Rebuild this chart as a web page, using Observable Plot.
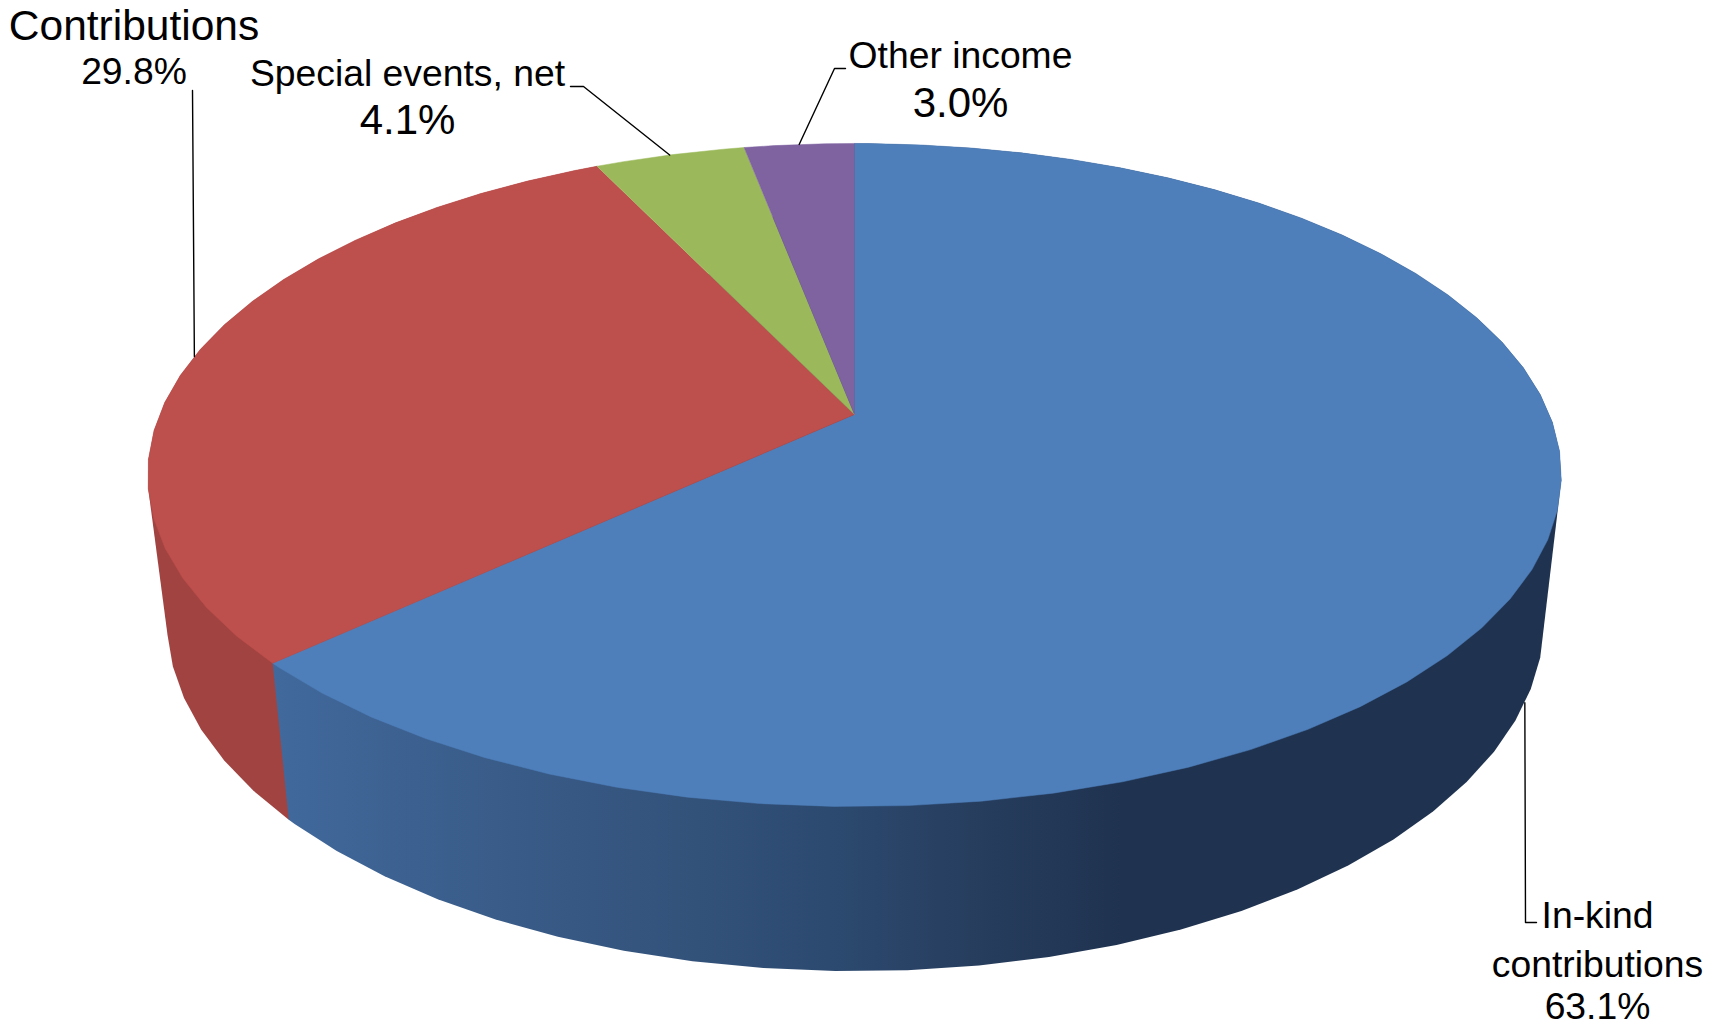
<!DOCTYPE html>
<html><head><meta charset="utf-8">
<style>html,body{margin:0;padding:0;background:#fff;overflow:hidden}svg{display:block}</style>
<script src="https://cdn.jsdelivr.net/npm/d3@7"></script>
<script src="https://cdn.jsdelivr.net/npm/@observablehq/plot@0.6"></script>
</head><body><script>
const categories = ["In-kind contributions", "Contributions", "Special events, net", "Other income"];
const values = [63.1, 29.8, 4.1, 3.0];
const colors = ["#4e7fba", "#bd4f4c", "#9bb95a", "#7f62a0"];
const labelLines = [["In-kind", "contributions"], ["Contributions"], ["Special events, net"], ["Other income"]];

const W = 1724, H = 1022;
const topDisc = {cx: 854, cy: 414, sx: 695, sy: 320.5};
const baseDisc = {cx: 855, cy: 556, sx: 677, sy: 339};
const tilt = 0.1825;
const wallFill = ["url(#wallBlue)", "#a04341", "none", "none"];
const facetStep = 5 / 360;                    // rim is drawn in 5 degree facets
const facetPhase = [1.4 / 360, 2.16 / 360, 2.16 / 360, 2.16 / 360];
const wallOrder = [1, 0];
// label layout: centre x, baseline of name lines, value baseline, sizes, and leader route
const layout = [
  {x: 1597, lines: [927, 976], vy: 1018, size: 37.3, vsize: 37.3, disc: baseDisc, route: [[1525, 922], [1536, 922]]},
  {x: 133.5, lines: [39], vy: 83, size: 42.5, vsize: 37.3, disc: topDisc, route: [[192, 90]]},
  {x: 407, lines: [85], vy: 133, size: 37.3, vsize: 42, disc: topDisc, route: [[583, 86], [570, 86]]},
  {x: 960, lines: [67], vy: 116, size: 37.3, vsize: 42, disc: topDisc, route: [[834, 68], [845, 68]]}
];

function project(disc, frac) {
  const a = frac * 2 * Math.PI, u = Math.sin(a), v = Math.cos(a), w = 1 + tilt * v;
  return [disc.cx + disc.sx * u / w, disc.cy - disc.sy * v / w];
}
const total = d3.sum(values);
const starts = d3.cumsum([0, ...values]).map(d => d / total);
function arc(disc, i) {
  const a = starts[i], b = starts[i + 1], fr = [a];
  for (let f = facetPhase[i]; f < b; f += facetStep) if (f > a) fr.push(f);
  fr.push(b);
  return fr.map(f => project(disc, f));
}
const toRows = pts => pts.map(([x, y]) => ({x, y}));
const common = {x: "x", y: "y", stroke: "none", curve: "linear"};

const marks = [];
wallOrder.forEach(i => {
  const hull = d3.polygonHull([...arc(topDisc, i), ...arc(baseDisc, i)]);
  marks.push(Plot.line(toRows(hull), {...common, fill: wallFill[i]}));
});
values.forEach((_, i) => {
  const slice = [[topDisc.cx, topDisc.cy], ...arc(topDisc, i)];
  marks.push(Plot.line(toRows(slice), {...common, fill: colors[i], stroke: colors[i], strokeWidth: 0.5}));
});
values.forEach((_, i) => {
  const l = layout[i];
  const start = project(l.disc, (starts[i] + starts[i + 1]) / 2);
  marks.push(Plot.line(toRows([start, ...l.route]), {x: "x", y: "y", stroke: "#000", strokeWidth: 1.4, curve: "linear"}));
  const rows = labelLines[i].map((t, j) => ({t, x: l.x, y: l.lines[j]}));
  marks.push(Plot.text(rows, {x: "x", y: "y", text: "t", fontSize: l.size, lineAnchor: "bottom", textAnchor: "middle", fill: "#000"}));
  marks.push(Plot.text([{t: values[i].toFixed(1) + "%", x: l.x, y: l.vy}], {x: "x", y: "y", text: "t", fontSize: l.vsize, lineAnchor: "bottom", textAnchor: "middle", fill: "#000"}));
});

const svg = Plot.plot({
  width: W, height: H, margin: 0,
  style: {fontFamily: "'Liberation Sans', Arial, sans-serif", background: "#fff"},
  x: {domain: [0, W], range: [0, W], axis: null},
  y: {domain: [0, H], range: [0, H], axis: null},
  marks
});
svg.insertAdjacentHTML("afterbegin", `<defs><linearGradient id="wallBlue" x1="0" y1="0" x2="1" y2="0">
<stop offset="0" stop-color="#41699c"/><stop offset="0.2" stop-color="#385a86"/><stop offset="0.33" stop-color="#33527a"/><stop offset="0.43" stop-color="#2c4a70"/><stop offset="0.56" stop-color="#263c5c"/><stop offset="0.66" stop-color="#1f3350"/><stop offset="1" stop-color="#1f3350"/></linearGradient></defs>`);
document.body.appendChild(svg);
</script></body></html>
